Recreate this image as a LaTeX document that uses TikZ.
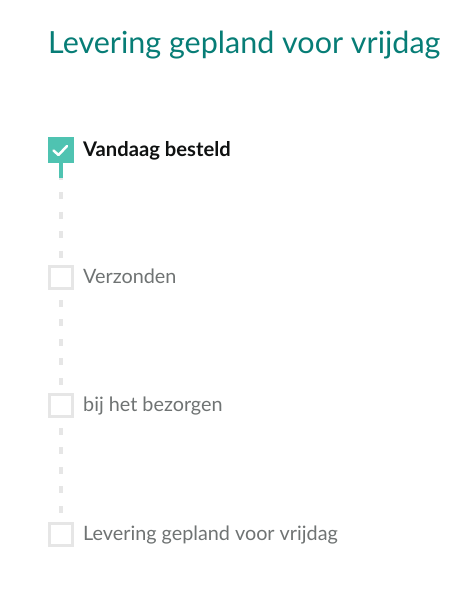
\documentclass[tikz,border=0pt]{standalone}
\usepackage{fontspec}
\setmainfont{Lato}
\usepackage{tikz}
\usepackage{xcolor}
\usetikzlibrary{calc, positioning}
\definecolor{titleteal}{HTML}{077D76}
\definecolor{doneteal}{HTML}{4FC3B1}
\definecolor{openbox}{HTML}{E6E6E6}
\definecolor{labelgray}{HTML}{6F7373}
\definecolor{labeldark}{HTML}{0F1111}
\tikzset{
    donebox/.style={draw=doneteal, fill=doneteal, line width=1pt, minimum size=25pt, inner sep=0pt},
    openstep/.style={draw=openbox, line width=3pt, minimum size=22.5pt, inner sep=0pt},
    steptext/.style={anchor=base west, inner sep=0pt, font=\fontsize{19.8}{22}\selectfont},
    trackline/.style={draw=openbox, line width=4pt, dash pattern=on 7pt off 12.5pt, dash phase=10pt}
}
\newcommand{\openstep}[3]{
    \node[openstep] (#1) at (61, #2) {};
    \node[steptext, text=labelgray] (#1-t) at (83, #2+6) {#3};
}
\begin{document}
\begin{tikzpicture}[x=1pt, y=-1pt]
                    \useasboundingbox (0, 0) rectangle (461, 594);
                    \node[anchor=base west, inner sep=0pt, text=titleteal, font=\fontsize{30.5}{34}\selectfont] (title) at (48, 53) {Levering gepland voor vrijdag};
                    \node[donebox] (ordered) at (61, 150) {};
                    \node[steptext, text=labeldark, font=\fontsize{20.2}{22}\selectfont\bfseries] (ordered-t) at (83, 156.5) {Vandaag besteld};
                    \openstep{shipped}{277.5}{Verzonden}
                    \openstep{delivering}{405.5}{bij het bezorgen}
                    \openstep{delivered}{534.5}{Levering gepland voor vrijdag}
                    \coordinate (stem) at ($(ordered.south) + (0, 15)$);
                    \draw[trackline]
                    (ordered.south) -- (shipped.north)
                    (shipped.south) -- (delivering.north)
                    (delivering.south) -- (delivered.north);
                    \draw[doneteal, line width=4pt] (ordered.south) -- (stem);
                    \draw[white, line width=2.5pt, line cap=round, line join=round]
                    ($(ordered.center) + (-7.5, 0.5)$) -- ($(ordered.center) + (-2.5, 5)$) -- ($(ordered.center) + (6, -4)$);
                \end{tikzpicture}
\end{document}
